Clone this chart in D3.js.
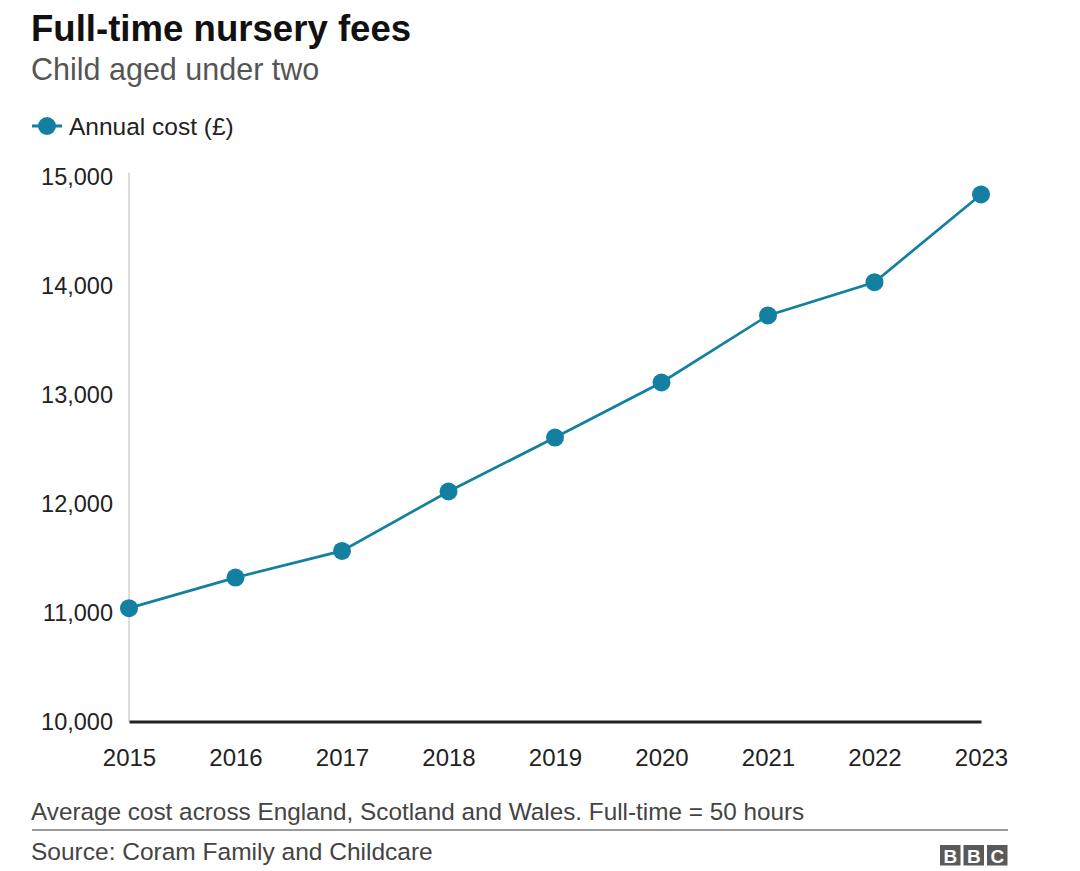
<!DOCTYPE html>
<html>
<head>
<meta charset="utf-8">
<script src="https://cdn.jsdelivr.net/npm/d3@7"></script>
<style>
  body { margin: 0; background: #fff; }
  svg { display: block; font-family: "Liberation Sans", Arial, sans-serif; }
</style>
</head>
<body>
<svg id="chart" width="1080" height="871"></svg>
<script>
// data
const years = [2015, 2016, 2017, 2018, 2019, 2020, 2021, 2022, 2023];
const annualCost = [11040, 11320, 11565, 12110, 12605, 13110, 13725, 14030, 14835];
const yTicks = [10000, 11000, 12000, 13000, 14000, 15000];

const teal = '#1380a1';
const svg = d3.select('#chart');

const x = d3.scalePoint()
    .domain(years)
    .range([129, 981]);

const y = d3.scaleLinear()
    .domain([10000, 15000])
    .range([721.5, 176.5]);

// titles
svg.append('text')
    .attr('x', 31).attr('y', 41)
    .attr('font-size', 36.6).attr('font-weight', 'bold').attr('fill', '#111')
    .text('Full-time nursery fees');

svg.append('text')
    .attr('x', 31).attr('y', 80)
    .attr('font-size', 30.5).attr('fill', '#555')
    .text('Child aged under two');

// legend
const leg = svg.append('g').attr('transform', 'translate(32,126)');
leg.append('line').attr('x1', 0).attr('x2', 30)
    .attr('stroke', teal).attr('stroke-width', 3);
leg.append('circle').attr('cx', 15).attr('r', 9).attr('fill', teal);
leg.append('text').attr('x', 37).attr('dy', '0.35em')
    .attr('font-size', 24.5).attr('fill', '#222')
    .text('Annual cost (£)');

// y axis
const yAxis = svg.append('g')
    .attr('transform', 'translate(129,0)')
    .call(d3.axisLeft(y).tickValues(yTicks).tickFormat(d3.format(',')).tickSize(0).tickPadding(16));
yAxis.select('.domain').attr('stroke', '#ddd').attr('stroke-width', 2)
    .attr('d', 'M0,' + (y(15000) - 4) + 'V' + y(10000));
yAxis.selectAll('text').attr('font-size', 23.5).attr('fill', '#222')
    .attr('font-family', '"Liberation Sans", Arial, sans-serif');

// x axis
const xAxis = svg.append('g')
    .attr('transform', 'translate(0,' + y(10000) + ')')
    .call(d3.axisBottom(x).tickSize(0).tickPadding(27));
xAxis.select('.domain').attr('stroke', '#222').attr('stroke-width', 3);
xAxis.selectAll('text').attr('font-size', 24).attr('fill', '#222')
    .attr('font-family', '"Liberation Sans", Arial, sans-serif');

// line + dots
const pts = years.map((d, i) => ({ year: d, value: annualCost[i] }));

svg.append('path')
    .datum(pts)
    .attr('fill', 'none')
    .attr('stroke', teal)
    .attr('stroke-width', 2.7)
    .attr('d', d3.line().x(d => x(d.year)).y(d => y(d.value)));

svg.selectAll('circle.dot')
    .data(pts)
    .enter().append('circle')
    .attr('class', 'dot')
    .attr('cx', d => x(d.year))
    .attr('cy', d => y(d.value))
    .attr('r', 9)
    .attr('fill', teal);

// footer
svg.append('text')
    .attr('x', 31).attr('y', 820)
    .attr('font-size', 24.3).attr('fill', '#444')
    .text('Average cost across England, Scotland and Wales. Full-time = 50 hours');

svg.append('line')
    .attr('x1', 32).attr('x2', 1008).attr('y1', 830).attr('y2', 830)
    .attr('stroke', '#999').attr('stroke-width', 2);

svg.append('text')
    .attr('x', 31).attr('y', 860)
    .attr('font-size', 24.5).attr('fill', '#444')
    .text('Source: Coram Family and Childcare');

// BBC blocks
const bbc = svg.append('g').attr('transform', 'translate(940,845)');
['B', 'B', 'C'].forEach((ch, i) => {
    bbc.append('rect').attr('x', i * 23.5).attr('width', 20.5).attr('height', 20.5).attr('fill', '#5a5a5a');
    bbc.append('text').attr('x', i * 23.5 + 10.25).attr('y', 17.5)
        .attr('text-anchor', 'middle').attr('font-size', 19).attr('font-weight', 'bold')
        .attr('fill', '#fff').text(ch);
});
</script>
</body>
</html>
